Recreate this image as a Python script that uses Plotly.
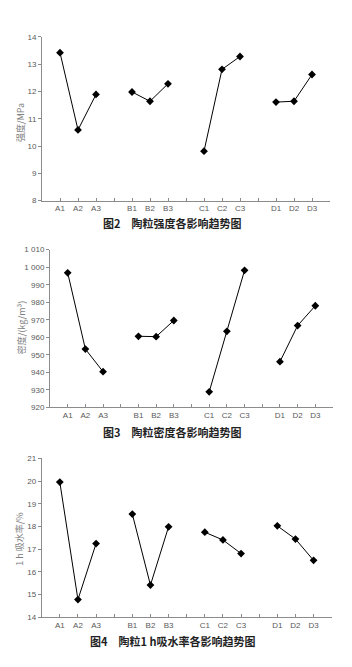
import plotly.graph_objects as go

# ---- data ----
groups = ["A", "B", "C", "D"]
levels = ["1", "2", "3"]
strength = {  # MPa
    "A": [13.42, 10.59, 11.89],
    "B": [11.98, 11.64, 12.28],
    "C": [9.81, 12.81, 13.28],
    "D": [11.61, 11.64, 12.62],
}
density = {  # kg/m3
    "A": [996.8, 953.3, 940.4],
    "B": [960.6, 960.4, 969.6],
    "C": [928.9, 963.4, 998.2],
    "D": [946.1, 966.7, 978.0],
}
absorption = {  # %
    "A": [19.96, 14.78, 17.25],
    "B": [18.55, 15.42, 17.99],
    "C": [17.75, 17.41, 16.81],
    "D": [18.03, 17.45, 16.51],
}
strength_ticks = [8, 9, 10, 11, 12, 13, 14]
density_ticks = [920, 930, 940, 950, 960, 970, 980, 990, 1000, 1010]
density_ticktext = ["920", "930", "940", "950", "960", "970", "980", "990", "1 000", "1 010"]
absorption_ticks = [14, 15, 16, 17, 18, 19, 20, 21]

titles = ["图2　陶粒强度各影响趋势图", "图3　陶粒密度各影响趋势图", "图4　陶粒1 h吸水率各影响趋势图"]
ytitles = ["强度/MPa", "密度/(kg/m³)", "1 h 吸水率/%"]

# ---- layout helpers ----
W, H = 352, 667
def xd(a, b):
    return [a / W, b / W]
def yd(top, bottom):
    return [1 - bottom / H, 1 - top / H]

panels = [
    dict(data=strength, xdom=xd(42, 330), ydom=yd(33.3, 199.3), yr=[8, 14],
         tv=strength_ticks, tt=[str(t) for t in strength_ticks],
         title_y=221.7, title_x=172.5, yt_x=20.7, yt_y=120),
    dict(data=density, xdom=xd(50, 333), ydom=yd(249, 409), yr=[920, 1010],
         tv=density_ticks, tt=density_ticktext,
         title_y=434, title_x=172.5, yt_x=21.7, yt_y=328),
    dict(data=absorption, xdom=xd(41.7, 331.7), ydom=yd(460.7, 621.7), yr=[14, 21],
         tv=absorption_ticks, tt=[str(t) for t in absorption_ticks],
         title_y=646, title_x=173, yt_x=20, yt_y=543),
]

# category slot positions: groups of 3 with a blank slot between
xpos = {}
tickvals, ticktext = [], []
slot = 1
for g in groups:
    xs = []
    for lv in levels:
        xs.append(slot)
        tickvals.append(slot)
        ticktext.append(g + lv)
        slot += 1
    xpos[g] = xs
    tickvals.append(slot)
    ticktext.append("")
    slot += 1

fig = go.Figure()
axis_color = "#8c8c8c"
label_color = "#595959"
tick_font = dict(family="Liberation Sans, Arial, sans-serif", size=8, color=label_color)

annotations = []
for i, p in enumerate(panels):
    n = i + 1
    xa = "x" if n == 1 else f"x{n}"
    ya = "y" if n == 1 else f"y{n}"
    for g in groups:
        fig.add_trace(go.Scatter(
            x=xpos[g], y=p["data"][g], xaxis=xa, yaxis=ya, mode="lines+markers",
            line=dict(color="black", width=1),
            marker=dict(symbol="diamond", size=6, color="black"),
            showlegend=False, hoverinfo="x+y"))
    xkey = "xaxis" if n == 1 else f"xaxis{n}"
    ykey = "yaxis" if n == 1 else f"yaxis{n}"
    fig.layout[xkey] = dict(
        domain=p["xdom"], anchor=ya, range=[0, 16], tickmode="array",
        tickvals=tickvals, ticktext=ticktext, ticks="inside", ticklen=3,
        tickcolor=axis_color, showline=True, linecolor=axis_color, linewidth=1,
        showgrid=False, zeroline=False, tickfont=tick_font, fixedrange=True)
    fig.layout[ykey] = dict(
        domain=p["ydom"], anchor=xa, range=p["yr"], tickmode="array",
        tickvals=p["tv"], ticktext=p["tt"], ticks="outside", ticklen=3,
        tickcolor=axis_color, showline=True, linecolor=axis_color, linewidth=1,
        showgrid=False, zeroline=False, tickfont=tick_font, fixedrange=True)
    annotations.append(dict(
        text="<b>" + titles[i] + "</b>", xref="paper", yref="paper",
        x=p["title_x"] / W, y=1 - p["title_y"] / H, xanchor="center", yanchor="middle",
        showarrow=False, font=dict(family="Noto Sans CJK SC", size=11, color="#1f1f1f")))
    annotations.append(dict(
        text=ytitles[i], xref="paper", yref="paper", textangle=-90,
        x=p["yt_x"] / W, y=1 - p["yt_y"] / H, xanchor="center", yanchor="middle",
        showarrow=False, font=dict(family="Noto Sans CJK SC", size=9, color="#7f7f7f")))

fig.update_layout(
    width=W, height=H, margin=dict(l=0, r=0, t=0, b=0),
    paper_bgcolor="white", plot_bgcolor="white",
    annotations=annotations, showlegend=False)

fig.write_html("out.html", config={"displayModeBar": False})
